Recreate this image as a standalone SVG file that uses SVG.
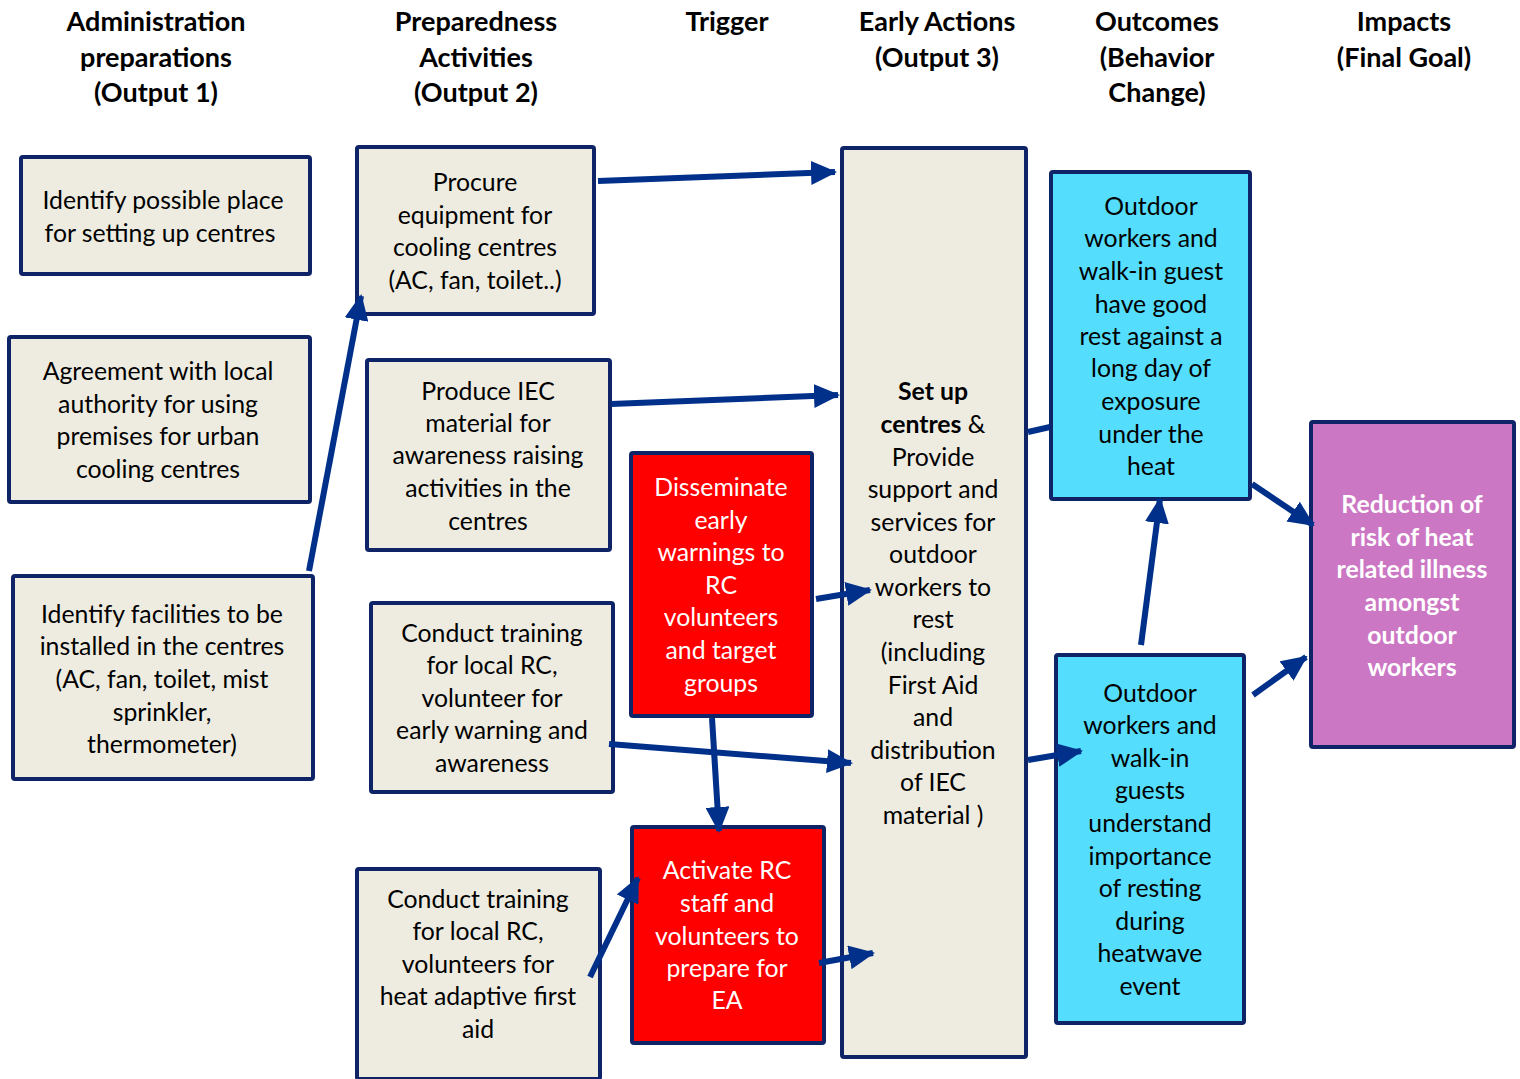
<svg xmlns="http://www.w3.org/2000/svg" width="1520" height="1079" viewBox="0 0 1520 1079">
<style>
.box{stroke:#0f2466;stroke-width:4;}
.beige{fill:#eeece1;}
.red{fill:#ff0000;}
.cyan{fill:#55ddfd;}
.purple{fill:#cc77c4;}
text{font-family:Lato,"Open Sans","Liberation Sans",sans-serif;font-size:24.8px;text-anchor:middle;fill:#000;}
.hdr{font-weight:bold;font-size:27px;}
.w{fill:#fff;}
.b{font-weight:bold;}
.arr{stroke:#00308a;stroke-width:6;fill:none;marker-end:url(#ah);}
.ln{stroke:#00308a;stroke-width:6;fill:none;}
</style>
<defs>
<marker id="ah" markerUnits="userSpaceOnUse" markerWidth="26" markerHeight="24" refX="24" refY="12" orient="auto">
<path d="M0,0 L26,12 L0,24 Z" fill="#00308a"/>
</marker>
</defs>
<rect width="1520" height="1079" fill="#fff"/>
<g id="headers">
<text class="hdr" x="156" y="31">Administration</text>
<text class="hdr" x="156" y="67">preparations</text>
<text class="hdr" x="156" y="102">(Output 1)</text>
<text class="hdr" x="476" y="31">Preparedness</text>
<text class="hdr" x="476" y="67">Activities</text>
<text class="hdr" x="476" y="102">(Output 2)</text>
<text class="hdr" x="727" y="31">Trigger</text>
<text class="hdr" x="937" y="31">Early Actions</text>
<text class="hdr" x="937" y="67">(Output 3)</text>
<text class="hdr" x="1157" y="31">Outcomes</text>
<text class="hdr" x="1157" y="67">(Behavior</text>
<text class="hdr" x="1157" y="102">Change)</text>
<text class="hdr" x="1404" y="31">Impacts</text>
<text class="hdr" x="1404" y="67">(Final Goal)</text>
</g>
<g id="n1">
<rect class="box beige" x="21" y="157" width="289" height="117" rx="2"/>
<text x="163" y="209">Identify possible place</text>
<text x="160" y="242">for setting up centres</text>
</g>
<g id="n2">
<rect class="box beige" x="9" y="337" width="301" height="165" rx="2"/>
<text x="158" y="380">Agreement with local</text>
<text x="158" y="413">authority for using</text>
<text x="158" y="445">premises for urban</text>
<text x="158" y="478">cooling centres</text>
</g>
<g id="n3">
<rect class="box beige" x="13" y="576" width="300" height="203" rx="2"/>
<text x="162" y="623">Identify facilities to be</text>
<text x="162" y="655">installed in the centres</text>
<text x="162" y="688">(AC, fan, toilet, mist</text>
<text x="162" y="721">sprinkler,</text>
<text x="162" y="753">thermometer)</text>
</g>
<g id="n4">
<rect class="box beige" x="357" y="147" width="237" height="167" rx="2"/>
<text x="475" y="191">Procure</text>
<text x="475" y="224">equipment for</text>
<text x="475" y="256">cooling centres</text>
<text x="475" y="289">(AC, fan, toilet..)</text>
</g>
<g id="n5">
<rect class="box beige" x="367" y="360" width="243" height="190" rx="2"/>
<text x="488" y="400">Produce IEC</text>
<text x="488" y="432">material for</text>
<text x="488" y="464">awareness raising</text>
<text x="488" y="497">activities in the</text>
<text x="488" y="530">centres</text>
</g>
<g id="n6">
<rect class="box beige" x="371" y="603" width="242" height="189" rx="2"/>
<text x="492" y="642">Conduct training</text>
<text x="492" y="674">for local RC,</text>
<text x="492" y="707">volunteer for</text>
<text x="492" y="739">early warning and</text>
<text x="492" y="772">awareness</text>
</g>
<g id="n7">
<rect class="box beige" x="357" y="869" width="243" height="210" rx="2"/>
<text x="478" y="908">Conduct training</text>
<text x="478" y="940">for local RC,</text>
<text x="478" y="973">volunteers for</text>
<text x="478" y="1005">heat adaptive first</text>
<text x="478" y="1038">aid</text>
</g>
<g id="n8">
<rect class="box red" x="631" y="453" width="181" height="263" rx="2"/>
<text class="w" x="721" y="496">Disseminate</text>
<text class="w" x="721" y="529">early</text>
<text class="w" x="721" y="561">warnings to</text>
<text class="w" x="721" y="594">RC</text>
<text class="w" x="721" y="626">volunteers</text>
<text class="w" x="721" y="659">and target</text>
<text class="w" x="721" y="692">groups</text>
</g>
<g id="n9">
<rect class="box red" x="632" y="827" width="192" height="216" rx="2"/>
<text class="w" x="727" y="879">Activate RC</text>
<text class="w" x="727" y="912">staff and</text>
<text class="w" x="727" y="945">volunteers to</text>
<text class="w" x="727" y="977">prepare for</text>
<text class="w" x="727" y="1009">EA</text>
</g>
<g id="n10">
<rect class="box beige" x="842" y="148" width="184" height="909" rx="2"/>
<text class="b" x="933" y="400">Set up</text>
<text x="933" y="433"><tspan class="b">centres</tspan> &amp;</text>
<text x="933" y="466">Provide</text>
<text x="933" y="498">support and</text>
<text x="933" y="531">services for</text>
<text x="933" y="563">outdoor</text>
<text x="933" y="596">workers to</text>
<text x="933" y="628">rest</text>
<text x="933" y="661">(including</text>
<text x="933" y="694">First Aid</text>
<text x="933" y="726">and</text>
<text x="933" y="759">distribution</text>
<text x="933" y="791">of IEC</text>
<text x="933" y="824">material )</text>
</g>
<g id="n11">
<rect class="box cyan" x="1051" y="172" width="199" height="327" rx="2"/>
<text x="1151" y="215">Outdoor</text>
<text x="1151" y="247">workers and</text>
<text x="1151" y="280">walk-in guest</text>
<text x="1151" y="313">have good</text>
<text x="1151" y="345">rest against a</text>
<text x="1151" y="377">long day of</text>
<text x="1151" y="410">exposure</text>
<text x="1151" y="443">under the</text>
<text x="1151" y="475">heat</text>
</g>
<g id="n12">
<rect class="box cyan" x="1056" y="655" width="188" height="368" rx="2"/>
<text x="1150" y="702">Outdoor</text>
<text x="1150" y="734">workers and</text>
<text x="1150" y="767">walk-in</text>
<text x="1150" y="799">guests</text>
<text x="1150" y="832">understand</text>
<text x="1150" y="865">importance</text>
<text x="1150" y="897">of resting</text>
<text x="1150" y="930">during</text>
<text x="1150" y="962">heatwave</text>
<text x="1150" y="995">event</text>
</g>
<g id="n13">
<rect class="box purple" x="1311" y="422" width="203" height="325" rx="2"/>
<text class="w b" x="1412" y="513">Reduction of</text>
<text class="w b" x="1412" y="546">risk of heat</text>
<text class="w b" x="1412" y="578">related illness</text>
<text class="w b" x="1412" y="611">amongst</text>
<text class="w b" x="1412" y="644">outdoor</text>
<text class="w b" x="1412" y="676">workers</text>
</g>
<g id="connectors">
<line class="arr" x1="598" y1="181" x2="835" y2="172"/>
<line class="arr" x1="611" y1="404" x2="838" y2="395"/>
<line class="arr" x1="309" y1="571" x2="361" y2="296"/>
<line class="arr" x1="816" y1="599" x2="870" y2="590"/>
<line class="arr" x1="609" y1="744" x2="851" y2="763"/>
<line class="arr" x1="712" y1="718" x2="719" y2="831"/>
<line class="arr" x1="590" y1="977" x2="638" y2="878"/>
<line class="arr" x1="819" y1="963" x2="873" y2="953"/>
<line class="ln" x1="1028" y1="432" x2="1050" y2="427"/>
<line class="arr" x1="1028" y1="760" x2="1081" y2="751"/>
<line class="arr" x1="1141" y1="645" x2="1160" y2="499"/>
<line class="arr" x1="1252" y1="484" x2="1313" y2="525"/>
<line class="arr" x1="1253" y1="695" x2="1306" y2="657"/>
</g>
</svg>
